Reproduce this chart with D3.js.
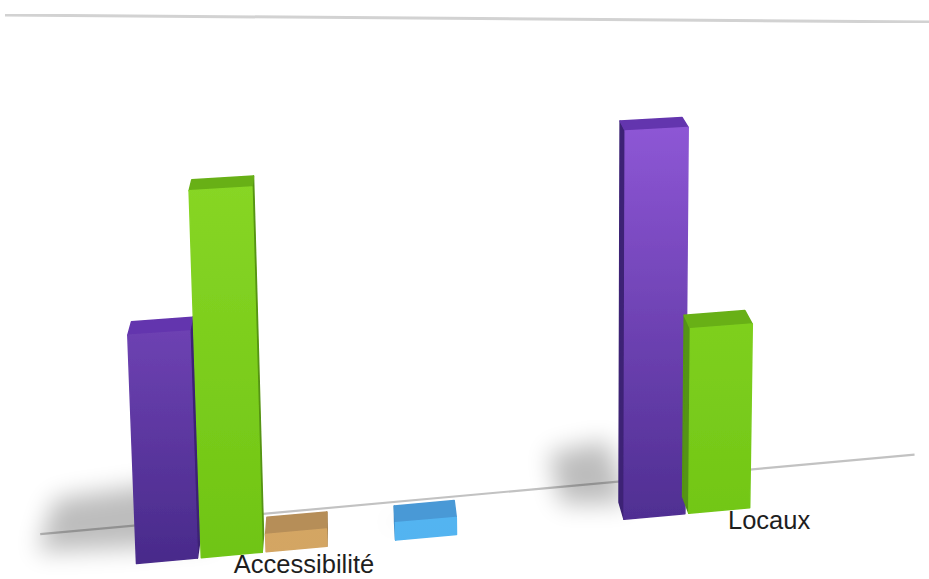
<!DOCTYPE html>
<html>
<head>
<meta charset="utf-8">
<script src="https://cdn.jsdelivr.net/npm/d3@7"></script>
<style>
  html, body { margin: 0; padding: 0; background: #fff; }
  svg { display: block; }
</style>
</head>
<body>
<svg id="chart" width="929" height="579"></svg>
<script>
"use strict";

// data
var categories = ["Accessibilité", "Locaux"];
var seriesPurple = [13, 23];
var seriesGreen = [21, 11];
var seriesTan = [1, 0];
var seriesEmpty = [0, 0];
var seriesBlue = [1, 0];
var valueMax = 23;

var allSeries = [seriesPurple, seriesGreen, seriesTan, seriesEmpty, seriesBlue];

var palette = [
  {front: ["#9058d8", "#482a8a"], top: "#6435ae", side: "#3c2274"},
  {front: ["#8cd928", "#6fc414"], top: "#68b018", side: "#559412"},
  {front: ["#dbae6c", "#d3a563"], top: "#b68e58", side: "#9c7a48"},
  {front: ["#9a9a9a", "#7a7a7a"], top: "#888888", side: "#666666"},
  {front: ["#5abef7", "#52b3f0"], top: "#4a99d6", side: "#3a82bc"}
];

// fake perspective: baseline slope, vertical lean, depth towards a vanishing point
var base = {y0: 561, u0: 165, slope: -0.091};
var persp = {q: 8e-5, lean: 8.5e-5, leanX: 590, vx: 339, vy: -430, kd: 0.0178};

function project(u, h, z) {
  var by = base.y0 + base.slope * (u - base.u0);
  var s = 1 - persp.q * (u - base.u0);
  var x = u - persp.lean * (persp.leanX - u) * h;
  var y = by - h * s;
  x += (persp.vx - x) * persp.kd * z;
  y += (persp.vy - y) * persp.kd * z;
  return [x, y];
}

var svg = d3.select("#chart");
var defs = svg.append("defs");

var x0 = d3.scaleBand()
  .domain(categories)
  .range([134.6, 945.9])
  .paddingInner(0.3358);

var x1 = d3.scaleBand()
  .domain(d3.range(allSeries.length))
  .range([0, x0.bandwidth()])
  .paddingInner(0.06)
  .paddingOuter(0.03);

var y = d3.scaleLinear()
  .domain([0, valueMax])
  .range([0, 403]);

palette.forEach(function(p, i) {
  var g = defs.append("linearGradient")
    .attr("id", "grad" + i)
    .attr("gradientUnits", "userSpaceOnUse")
    .attr("x1", 0).attr("y1", 110)
    .attr("x2", 0).attr("y2", 565);
  g.append("stop").attr("offset", 0).attr("stop-color", p.front[0]);
  g.append("stop").attr("offset", 1).attr("stop-color", p.front[1]);
});

defs.append("filter").attr("id", "shadowBlur")
  .attr("x", "-50%").attr("y", "-50%").attr("width", "200%").attr("height", "200%")
  .append("feGaussianBlur").attr("stdDeviation", 12);

defs.append("filter").attr("id", "soft")
  .append("feGaussianBlur").attr("stdDeviation", 0.6);

// top line
svg.append("line")
  .attr("x1", 5).attr("y1", 15)
  .attr("x2", 929).attr("y2", 22)
  .attr("stroke", "#d2d2d2")
  .attr("stroke-width", 3)
  .attr("filter", "url(#soft)");

// floor line
var floorA = project(28, 0, 2.2);
var floorB = project(938, 0, 2.2);
svg.append("line")
  .attr("x1", floorA[0]).attr("y1", floorA[1])
  .attr("x2", floorB[0]).attr("y2", floorB[1])
  .attr("stroke", "#c2c2c2")
  .attr("stroke-width", 2.2)
  .attr("filter", "url(#soft)");

var bars = [];
categories.forEach(function(cat, ci) {
  allSeries.forEach(function(ser, si) {
    if (ser[ci] > 0) {
      var uL = x0(cat) + x1(si);
      bars.push({cat: cat, si: si, value: ser[ci], uL: uL, uR: uL + x1.bandwidth(), h: y(ser[ci])});
    }
  });
});

function poly(pts) {
  return "M" + pts.map(function(p) { return p[0].toFixed(1) + "," + p[1].toFixed(1); }).join("L") + "Z";
}

// shadows on the floor, cast to the left
var shadows = svg.append("g")
  .attr("opacity", 0.26)
  .attr("filter", "url(#shadowBlur)");

shadows.selectAll("path")
  .data(bars)
  .enter()
  .append("path")
  .attr("fill", "#000")
  .attr("d", function(d) {
    var len = d.h * Math.max(0.05, 0.55 - 0.00065 * d.uL);
    var zEnd = 1 + Math.min(3.6, d.h / 65);
    return poly([
      project(d.uL + 8, 0, 0.9),
      project(d.uL - len, 0, 1.2),
      project(d.uL - len, 0, zEnd - 0.4),
      project(d.uL + 8, 0, zEnd)
    ]);
  });

var barG = svg.append("g").attr("filter", "url(#soft)");

var bar = barG.selectAll("g.bar")
  .data(bars)
  .enter()
  .append("g")
  .attr("class", "bar");

bar.append("path")
  .attr("fill", function(d) { return palette[d.si].side; })
  .attr("stroke", function(d) { return palette[d.si].side; })
  .attr("stroke-linejoin", "round")
  .attr("stroke-width", 1.5)
  .attr("d", function(d) {
    var u = (d.uL + d.uR) / 2 > persp.vx ? d.uL : d.uR;
    return poly([project(u, 0, 0), project(u, d.h, 0), project(u, d.h, 1), project(u, 0, 1)]);
  });

bar.append("path")
  .attr("fill", function(d) { return palette[d.si].top; })
  .attr("stroke", function(d) { return palette[d.si].top; })
  .attr("stroke-linejoin", "round")
  .attr("stroke-width", 1.5)
  .attr("d", function(d) {
    return poly([project(d.uL, d.h, 0), project(d.uR, d.h, 0), project(d.uR, d.h, 1), project(d.uL, d.h, 1)]);
  });

bar.append("path")
  .attr("fill", function(d) { return "url(#grad" + d.si + ")"; })
  .attr("stroke", function(d) { return "url(#grad" + d.si + ")"; })
  .attr("stroke-linejoin", "round")
  .attr("stroke-width", 1.5)
  .attr("d", function(d) {
    return poly([project(d.uL, 0, 0), project(d.uR, 0, 0), project(d.uR, d.h, 0), project(d.uL, d.h, 0)]);
  });

// category labels, pulled slightly toward the view centre
function labelPos(c) {
  var p = project(x0(c) + x0.bandwidth() / 2, 0, 0);
  return [p[0] + (460 - p[0]) * 0.046, p[1] + 24];
}

svg.selectAll("text.cat")
  .data(categories)
  .enter()
  .append("text")
  .attr("class", "cat")
  .attr("x", function(c) { return labelPos(c)[0]; })
  .attr("y", function(c) { return labelPos(c)[1]; })
  .attr("text-anchor", "middle")
  .style("font-family", "'Liberation Sans', Arial, sans-serif")
  .style("font-size", "25.5px")
  .style("fill", "#1e1e1e")
  .text(function(c) { return c; });
</script>
</body>
</html>
